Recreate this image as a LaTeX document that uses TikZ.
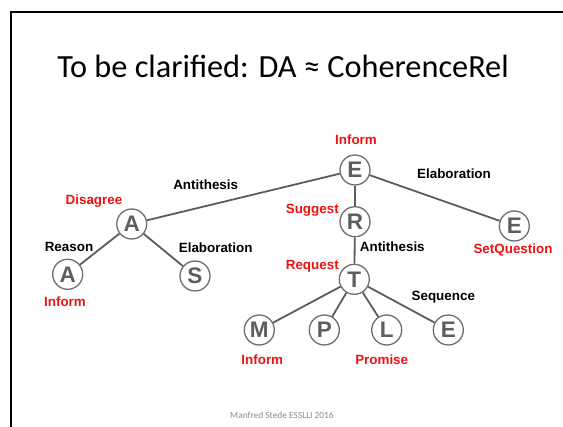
\documentclass[tikz,border=0pt]{standalone}
\usepackage{fontspec}
\setmainfont{Carlito}
\newfontfamily\labelfont{Liberation Sans}
\usepackage{xcolor}
\usetikzlibrary{positioning}

\definecolor{linegray}{HTML}{5C5C5C}
\definecolor{ringgray}{HTML}{6E6E6E}
\definecolor{lettergray}{HTML}{5E5E5E}
\definecolor{actred}{HTML}{F01010}
\definecolor{footgray}{HTML}{8A8A8A}

\begin{document}
\begin{tikzpicture}[
    x=1pt, y=-1pt,
    da node/.style={
        circle,
        draw=ringgray,
        line width=1.3pt,
        fill=white,
        minimum size=30pt,
        inner sep=0pt,
        text=lettergray,
        font=\labelfont\bfseries\fontsize{22.5}{22}\selectfont
    },
    rel/.style={font=\labelfont\bfseries\fontsize{13.4}{15}\selectfont, inner sep=1pt},
    act/.style={rel, text=actred},
    link/.style={draw=linegray, line width=1.8pt}
]

\useasboundingbox (0,0) rectangle (563,427);

% frame and title
\draw[line width=2pt] (10.5,427) -- (10.5,12.3) -- (563,12.3);
\node[font=\fontsize{32.3}{36}\selectfont] (title) at (283,66) {To be clarified: DA ≈ CoherenceRel};

% tree
\node[da node] (e1) at (355,170) {E};
\node[da node] (a1) at (131.7,224) {A};
\node[da node] (r1) at (355,221.7) {R};
\node[da node] (e2) at (514.3,226) {E};
\node[da node] (a2) at (67.7,274.3) {A};
\node[da node] (s1) at (195,276) {S};
\node[da node] (t1) at (354.3,279.3) {T};
\node[da node] (m1) at (259.3,330) {M};
\node[da node] (p1) at (324.3,330) {P};
\node[da node] (l1) at (386.7,330) {L};
\node[da node] (e3) at (448.3,330) {E};

\draw[link] (e1) -- (a1);
\draw[link] (e1) -- (r1);
\draw[link] (e1) -- (e2);
\draw[link] (a1) -- (a2);
\draw[link] (a1) -- (s1);
\draw[link] (r1) -- (t1);
\draw[link] (t1) -- (m1);
\draw[link] (t1) -- (p1);
\draw[link] (t1) -- (l1);
\draw[link] (t1) -- (e3);

% relations
\node[rel] (antithesis1) at (205.7,185) {Antithesis};
\node[rel] (elaboration1) at (454,174) {Elaboration};
\node[rel] (reason) at (69,247.3) {Reason};
\node[rel] (elaboration2) at (215.7,247.3) {Elaboration};
\node[rel] (antithesis2) at (392.3,246.7) {Antithesis};
\node[rel] (sequence) at (443.3,297.3) {Sequence};

% dialogue acts
\node[act] (inform1) at (356,139.3) {Inform};
\node[act] (disagree) at (94,201) {Disagree};
\node[act] (suggest) at (312.3,210) {Suggest};
\node[act] (setquestion) at (513,250) {SetQuestion};
\node[act] (request) at (312.3,266) {Request};
\node[act] (inform2) at (65,301.7) {Inform};
\node[act] (inform3) at (262.3,360) {Inform};
\node[act] (promise) at (381.7,360) {Promise};

\node[text=footgray, font=\fontsize{9.4}{11}\selectfont] (footer) at (282,415) {Manfred Stede ESSLLI 2016};

\end{tikzpicture}
\end{document}
